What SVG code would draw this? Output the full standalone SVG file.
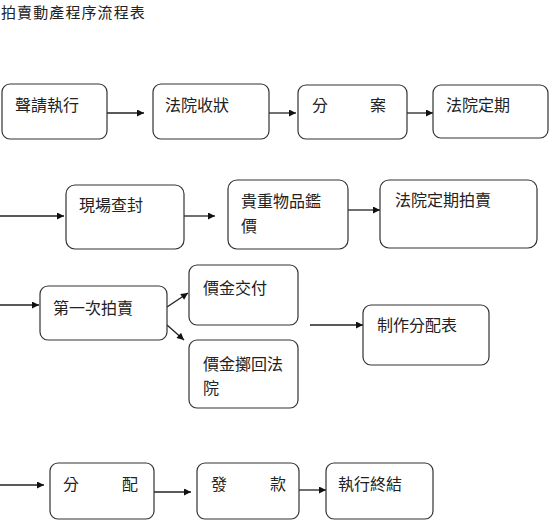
<svg xmlns="http://www.w3.org/2000/svg" width="550" height="522" viewBox="0 0 550 522">
<style>
text{font-family:"Noto Sans CJK TC","Noto Sans CJK SC",sans-serif;font-size:16px;fill:#222}
.box{fill:#fff;stroke:#333;stroke-width:1.2}
.ln{stroke:#222;stroke-width:1.3;fill:none;marker-end:url(#ah)}
</style>
<defs>
<marker id="ah" viewBox="0 0 10 10" refX="10" refY="5" markerWidth="9" markerHeight="7" markerUnits="userSpaceOnUse" orient="auto">
<path d="M0,0 L10,5 L0,10 z" fill="#111"/>
</marker>
</defs>
<rect width="550" height="522" fill="#fff"/>
<text x="1" y="17.5" style="font-size:15px;letter-spacing:1.1px">拍賣動產程序流程表</text>
<g id="connectors">
<line class="ln" x1="107" y1="113" x2="144" y2="113"/>
<line class="ln" x1="269" y1="113" x2="296" y2="113"/>
<line class="ln" x1="407" y1="113" x2="433" y2="113"/>
<line class="ln" x1="0" y1="216" x2="64" y2="216"/>
<line class="ln" x1="184" y1="216" x2="215" y2="216"/>
<line class="ln" x1="348" y1="210" x2="380" y2="210"/>
<line class="ln" x1="0" y1="305" x2="39" y2="305"/>
<line class="ln" x1="167" y1="307" x2="188" y2="293"/>
<line class="ln" x1="167" y1="325" x2="184" y2="340"/>
<line class="ln" x1="310" y1="325" x2="363" y2="325"/>
<line class="ln" x1="0" y1="485" x2="44" y2="485"/>
<line class="ln" x1="154" y1="492" x2="191" y2="492"/>
<line class="ln" x1="299" y1="490" x2="326" y2="490"/>
</g>
<g id="n1"><rect class="box" x="2" y="84" width="105" height="55" rx="8"/><text x="15" y="111">聲請執行</text></g>
<g id="n2"><rect class="box" x="153" y="84" width="116" height="55" rx="8"/><text x="165" y="111">法院收狀</text></g>
<g id="n3"><rect class="box" x="298" y="85" width="109" height="54" rx="8"/><text x="312" y="111">分</text><text x="370" y="111">案</text></g>
<g id="n4"><rect class="box" x="433" y="85" width="115" height="53" rx="8"/><text x="446" y="111">法院定期</text></g>
<g id="n5"><rect class="box" x="66" y="185" width="118" height="64" rx="9"/><text x="79" y="211">現場查封</text></g>
<g id="n6"><rect class="box" x="228" y="180" width="120" height="69" rx="9"/><text x="241" y="207">貴重物品鑑</text><text x="241" y="232">價</text></g>
<g id="n7"><rect class="box" x="380" y="180" width="157" height="68" rx="9"/><text x="395" y="206">法院定期拍賣</text></g>
<g id="n8"><rect class="box" x="40" y="286" width="127" height="54" rx="8"/><text x="53" y="314">第一次拍賣</text></g>
<g id="n9"><rect class="box" x="189" y="265" width="109" height="60" rx="8"/><text x="203" y="294">價金交付</text></g>
<g id="n10"><rect class="box" x="189" y="340" width="109" height="68" rx="8"/><text x="203" y="370">價金擲回法</text><text x="203" y="394">院</text></g>
<g id="n11"><rect class="box" x="363" y="305" width="126" height="60" rx="8"/><text x="377" y="331">制作分配表</text></g>
<g id="n12"><rect class="box" x="50" y="463" width="104" height="56" rx="8"/><text x="63" y="490">分</text><text x="122" y="490">配</text></g>
<g id="n13"><rect class="box" x="197" y="463" width="102" height="56" rx="8"/><text x="211" y="490">發</text><text x="270" y="490">款</text></g>
<g id="n14"><rect class="box" x="326" y="463" width="107" height="56" rx="8"/><text x="338" y="490">執行終結</text></g>
</svg>
